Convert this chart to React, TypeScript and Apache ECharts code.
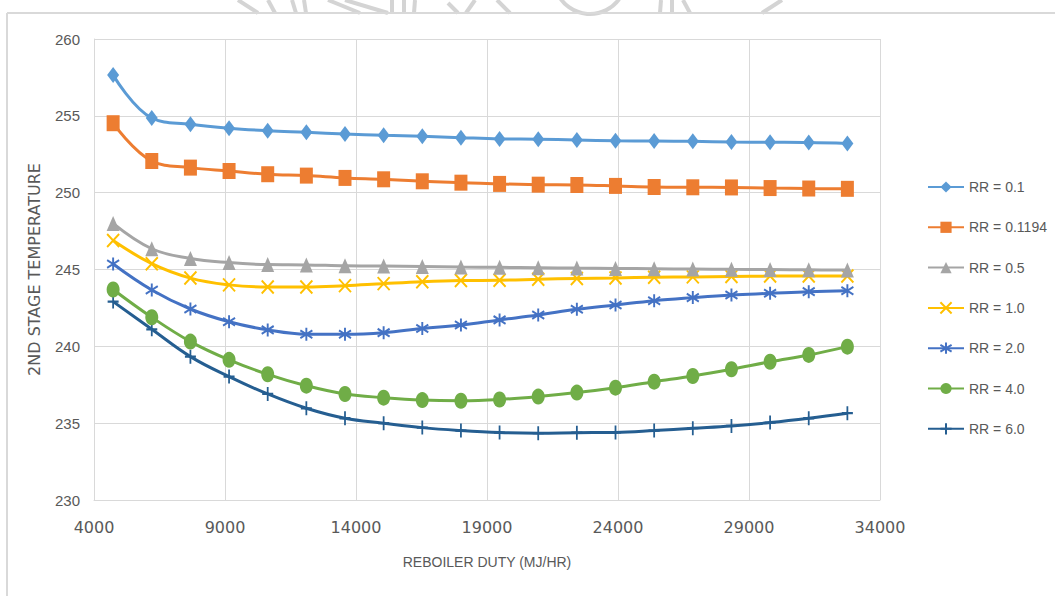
import React, { useEffect, useRef } from "react";
import * as echarts from "echarts";

const duty = [4730, 6205, 7680, 9155, 10630, 12105, 13580, 15055, 16530, 18005, 19480, 20955, 22430, 23905, 25380, 26855, 28330, 29805, 31280, 32755];

const rr01 = [257.65, 254.86, 254.45, 254.19, 254.03, 253.93, 253.82, 253.73, 253.67, 253.58, 253.5, 253.48, 253.43, 253.38, 253.36, 253.34, 253.3, 253.28, 253.26, 253.2];
const rr01194 = [254.52, 252.06, 251.63, 251.41, 251.2, 251.11, 250.96, 250.87, 250.74, 250.65, 250.57, 250.52, 250.5, 250.44, 250.37, 250.35, 250.34, 250.3, 250.27, 250.25];
const rr05 = [248.0, 246.35, 245.72, 245.45, 245.32, 245.3, 245.24, 245.22, 245.19, 245.16, 245.14, 245.12, 245.09, 245.07, 245.05, 245.03, 245.01, 245.0, 244.98, 244.96];
const rr10 = [246.88, 245.38, 244.44, 244.0, 243.86, 243.86, 243.95, 244.08, 244.2, 244.28, 244.3, 244.36, 244.42, 244.45, 244.5, 244.52, 244.55, 244.57, 244.58, 244.58];
const rr20 = [245.36, 243.67, 242.43, 241.6, 241.07, 240.79, 240.79, 240.89, 241.16, 241.39, 241.72, 242.04, 242.41, 242.69, 242.97, 243.17, 243.34, 243.45, 243.56, 243.62];
const rr40 = [243.7, 241.89, 240.31, 239.12, 238.18, 237.44, 236.9, 236.66, 236.5, 236.46, 236.54, 236.73, 236.99, 237.31, 237.7, 238.07, 238.51, 239.0, 239.44, 239.98];
const rr60 = [242.91, 241.11, 239.33, 238.03, 236.9, 235.97, 235.32, 235.0, 234.71, 234.52, 234.39, 234.35, 234.38, 234.4, 234.52, 234.67, 234.82, 235.04, 235.32, 235.65];

const seriesNames = ["RR = 0.1", "RR = 0.1194", "RR = 0.5", "RR = 1.0", "RR = 2.0", "RR = 4.0", "RR = 6.0"];
const seriesValues = [rr01, rr01194, rr05, rr10, rr20, rr40, rr60];
const seriesColors = ["#5B9BD5", "#ED7D31", "#A5A5A5", "#FFC000", "#4472C4", "#70AD47", "#255E91"];

const xTitle = "REBOILER DUTY (MJ/HR)";
const yTitle = "2ND STAGE TEMPERATURE";

const markerDefs: any[] = [
  { symbol: "diamond", size: [12, 16], stroke: false },
  { symbol: "rect", size: [13, 16], stroke: false },
  { symbol: "triangle", size: [13, 15], stroke: false },
  { symbol: "path://M0 0L10 10M10 0L0 10", size: [12, 13], stroke: true },
  { symbol: "path://M5 0L5 10M0.7 2L9.3 8M9.3 2L0.7 8", size: [12, 13], stroke: true },
  { symbol: "circle", size: [13, 16], stroke: false },
  { symbol: "path://M5 0L5 12M0 6L10 6", size: [11, 14], stroke: true },
];

const gray = "#595959";
const sans = "'Liberation Sans', Arial, sans-serif";

export default function App() {
  const ref = useRef<HTMLDivElement>(null);
  useEffect(() => {
    if (!ref.current) return;
    const chart = echarts.init(ref.current, undefined, { renderer: "svg" });
    const series = seriesNames.map((name, i) => {
      const m = markerDefs[i];
      const c = seriesColors[i];
      return {
        name,
        type: "line",
        smooth: 0.4,
        data: duty.map((x, j) => [x, seriesValues[i][j]]),
        symbol: m.symbol,
        symbolSize: m.size,
        showAllSymbol: true,
        lineStyle: { color: c, width: 3 },
        itemStyle: m.stroke
          ? { color: c, borderColor: c, borderWidth: 2 }
          : { color: c, borderWidth: 0 },
        z: 2 + (seriesNames.length - i),
      };
    });
    const wm = "#d4d4d4";
    const wmLine = (x1: number, y1: number, x2: number, y2: number) => ({
      type: "line",
      silent: true,
      shape: { x1, y1, x2, y2 },
      style: { stroke: wm, lineWidth: 4 },
    });
    chart.setOption({
      animation: false,
      backgroundColor: "#ffffff",
      grid: { left: 94, right: 175, top: 39, bottom: 96, containLabel: false },
      xAxis: {
        type: "value",
        min: 4000,
        max: 34000,
        interval: 5000,
        name: xTitle,
        nameLocation: "middle",
        nameGap: 55,
        nameTextStyle: { color: gray, fontSize: 14, fontFamily: sans },
        axisLine: { show: true, lineStyle: { color: "#d9d9d9", width: 1 } },
        axisTick: { show: false },
        axisLabel: {
          color: gray,
          fontSize: 16,
          fontFamily: "'DejaVu Sans', sans-serif",
          margin: 19,
          formatter: (v: number) => String(v),
        },
        splitLine: { show: true, lineStyle: { color: "#d9d9d9", width: 1 } },
      },
      yAxis: {
        type: "value",
        min: 230,
        max: 260,
        interval: 5,
        name: yTitle,
        nameLocation: "middle",
        nameGap: 52,
        nameRotate: 90,
        nameTextStyle: { color: gray, fontSize: 16, fontFamily: "'DejaVu Sans', sans-serif" },
        axisLine: { show: true, lineStyle: { color: "#d9d9d9", width: 1 } },
        axisTick: { show: false },
        axisLabel: { color: gray, fontSize: 15, fontFamily: sans, margin: 14 },
        splitLine: { show: true, lineStyle: { color: "#d9d9d9", width: 1 } },
      },
      legend: {
        orient: "vertical",
        left: 922,
        top: 174,
        itemWidth: 36,
        itemHeight: 14,
        itemGap: 24.3,
        data: seriesNames,
        textStyle: { color: gray, fontSize: 14, lineHeight: 16, fontFamily: sans },
      },
      graphic: [
        wmLine(238, 0, 258, 13),
        wmLine(268, 0, 275, 13),
        wmLine(292, 0, 296, 13),
        wmLine(304, 0, 306, 13),
        wmLine(328, 0, 360, 13),
        wmLine(345, 0, 388, 13),
        wmLine(392, 0, 392, 13),
        wmLine(404, 0, 404, 13),
        wmLine(415, 0, 414, 13),
        wmLine(448, 3, 458, 13),
        wmLine(475, 0, 466, 13),
        wmLine(497, 0, 510, 13),
        {
          type: "arc",
          silent: true,
          shape: { cx: 590, cy: -22, r: 36, startAngle: Math.PI * 0.2, endAngle: Math.PI * 0.85 },
          style: { stroke: wm, lineWidth: 4, fill: "none" },
        },
        wmLine(661, 0, 660, 13),
        wmLine(672, 0, 672, 13),
        wmLine(683, 0, 690, 13),
        wmLine(782, 0, 762, 13),
        { type: "line", silent: true, shape: { x1: 7, y1: 13, x2: 1055, y2: 13 }, style: { stroke: "#d9d9d9", lineWidth: 2 } },
        { type: "line", silent: true, shape: { x1: 7, y1: 13, x2: 7, y2: 596 }, style: { stroke: "#d9d9d9", lineWidth: 2 } },
      ],
      series,
    });
    return () => chart.dispose();
  }, []);
  return (
    <div
      ref={ref}
      style={{ position: "fixed", left: 0, top: 0, width: 1055, height: 596, background: "#fff" }}
    />
  );
}
